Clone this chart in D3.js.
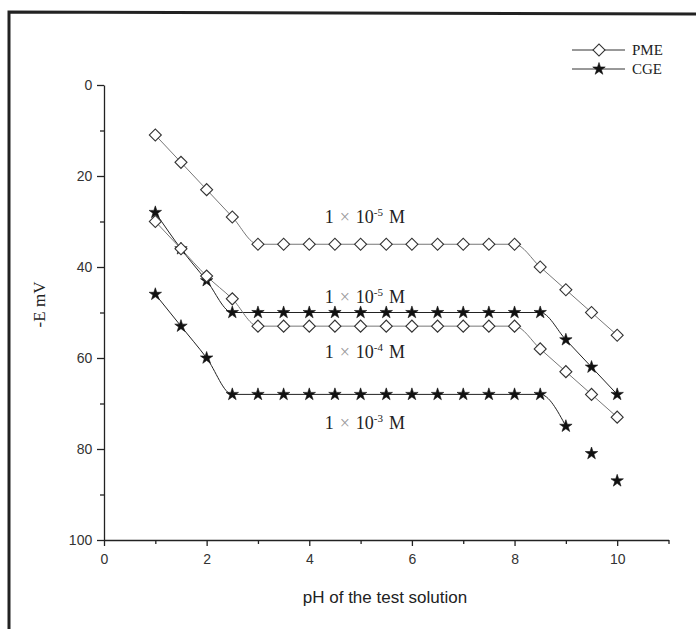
<!DOCTYPE html>
<html>
<head>
<meta charset="utf-8">
<script src="https://cdn.jsdelivr.net/npm/d3@7"></script>
<style>
  html, body { margin: 0; padding: 0; background: #fff; }
  svg { display: block; }
</style>
</head>
<body>
<svg id="chart" width="696" height="629"></svg>
<script>
// pH of the test solution
const pH = [1, 1.5, 2, 2.5, 3, 3.5, 4, 4.5, 5, 5.5, 6, 6.5, 7, 7.5, 8, 8.5, 9, 9.5, 10];

// -E (mV) readings
const pme5 = [11, 17, 23, 29, 35, 35, 35, 35, 35, 35, 35, 35, 35, 35, 35, 40, 45, 50, 55];
const cge5 = [28, 36, 43, 50, 50, 50, 50, 50, 50, 50, 50, 50, 50, 50, 50, 50, 56, 62, 68];
const pme4 = [30, 36, 42, 47, 53, 53, 53, 53, 53, 53, 53, 53, 53, 53, 53, 58, 63, 68, 73];
const cge3 = [46, 53, 60, 68, 68, 68, 68, 68, 68, 68, 68, 68, 68, 68, 68, 68, 75, 81, 87];
// the 1e-3 M CGE curve is only traced up to pH 9
const cge3LineEnd = 9;

const xTicks = [0, 2, 4, 6, 8, 10];
const yTicks = [0, 20, 40, 60, 80, 100];
const legendNames = ["PME", "CGE"];
const concLabels = ["-5", "-5", "-4", "-3"];

const svg = d3.select("#chart");

// scanned page frame
svg.append("path")
  .attr("d", "M9,640 L9,12 L700,14")
  .attr("fill", "none").attr("stroke", "#222").attr("stroke-width", 3);

const x = d3.scaleLinear().domain([0, 11]).range([104, 668.5]);
const y = d3.scaleLinear().domain([0, 100]).range([85, 540]);

const axisColor = "#222";

// x axis
const gx = svg.append("g").attr("transform", `translate(0,${y(100)})`)
  .call(d3.axisBottom(x).tickValues(d3.range(0, 12)).tickSize(5).tickSizeOuter(0)
    .tickFormat(d => xTicks.includes(d) ? d : ""));
gx.selectAll(".tick line").attr("y2", d => xTicks.includes(d) ? 6 : 4);

// y axis
const gy = svg.append("g").attr("transform", `translate(${x(0)},0)`)
  .call(d3.axisLeft(y).tickValues(d3.range(0, 101, 10)).tickSize(6).tickSizeOuter(0)
    .tickFormat(d => yTicks.includes(d) ? d : ""));
gy.selectAll(".tick line").attr("x2", d => yTicks.includes(d) ? -7 : -4);

[gx, gy].forEach(g => {
  g.select(".domain").attr("stroke", axisColor).attr("stroke-width", 1.3);
  g.selectAll(".tick line").attr("stroke", axisColor).attr("stroke-width", 1.3);
  g.selectAll(".tick text")
    .attr("fill", "#333")
    .style("font-family", "'Liberation Sans', Arial, sans-serif")
    .style("font-size", "14px");
});
gx.selectAll(".tick text").attr("dy", "1.15em");
gy.selectAll(".tick text").attr("dx", "-0.2em");

// axis titles
svg.append("text")
  .attr("x", 385).attr("y", 603)
  .attr("text-anchor", "middle")
  .attr("fill", "#222")
  .style("font-family", "'Liberation Sans', Arial, sans-serif")
  .style("font-size", "17px")
  .text("pH of the test solution");

svg.append("text")
  .attr("transform", `translate(45,${y(50) - 8}) rotate(-90)`)
  .attr("text-anchor", "middle")
  .attr("fill", "#222")
  .style("font-family", "'Liberation Serif', 'Times New Roman', serif")
  .style("font-size", "17px")
  .text("-E mV");

// curves
const line = d3.line().x(d => x(d[0])).y(d => y(d[1])).curve(d3.curveMonotoneX);
const zip = vals => pH.map((p, i) => [p, vals[i]]);

const series = [
  { vals: pme5, marker: "diamond", color: "#777", lineTo: 10 },
  { vals: cge5, marker: "star", color: "#222", lineTo: 10 },
  { vals: pme4, marker: "diamond", color: "#777", lineTo: 10 },
  { vals: cge3, marker: "star", color: "#222", lineTo: cge3LineEnd }
];

const diamond = d3.symbol().type(d3.symbolSquare).size(72);
const star = d3.symbol().type(d3.symbolStar).size(48);

series.forEach(s => {
  const pts = zip(s.vals);
  svg.append("path")
    .datum(pts.filter(d => d[0] <= s.lineTo))
    .attr("d", line)
    .attr("fill", "none")
    .attr("stroke", s.color)
    .attr("stroke-width", 1);
});

function drawMarker(g, kind, cx, cy) {
  if (kind === "diamond") {
    g.append("path")
      .attr("d", diamond())
      .attr("transform", `translate(${cx},${cy}) rotate(45)`)
      .attr("fill", "#fff").attr("stroke", "#333").attr("stroke-width", 1.1);
  } else {
    g.append("path")
      .attr("d", star())
      .attr("transform", `translate(${cx},${cy})`)
      .attr("fill", "#111").attr("stroke", "#111").attr("stroke-width", 0.6);
  }
}

const markers = svg.append("g");
series.forEach(s => {
  zip(s.vals).forEach(d => drawMarker(markers, s.marker, x(d[0]), y(d[1])));
});

// concentration labels
const labelPos = [[4.3, 29], [4.3, 46.6], [4.3, 58.7], [4.3, 74.3]];
concLabels.forEach((exp, i) => {
  const t = svg.append("text")
    .attr("x", x(labelPos[i][0])).attr("y", y(labelPos[i][1]) + 6)
    .attr("fill", "#222")
    .style("font-family", "'Liberation Serif', 'Times New Roman', serif")
    .style("font-size", "18px");
  t.append("tspan").text("1");
  t.append("tspan").attr("fill", "#999").attr("dx", 6).text("×");
  t.append("tspan").attr("dx", 6).text("10");
  t.append("tspan").attr("dy", -7).style("font-size", "11px").text(exp);
  t.append("tspan").attr("dy", 7).attr("dx", 6).text("M");
});

// legend
const legend = svg.append("g");
legendNames.forEach((name, i) => {
  const ly = 50 + i * 19;
  legend.append("line")
    .attr("x1", 572).attr("x2", 625).attr("y1", ly).attr("y2", ly)
    .attr("stroke", "#333").attr("stroke-width", 1);
  drawMarker(legend, i === 0 ? "diamond" : "star", 599, ly);
  legend.append("text")
    .attr("x", 632).attr("y", ly + 5)
    .attr("fill", "#222")
    .style("font-family", "'Liberation Serif', 'Times New Roman', serif")
    .style("font-size", "15px")
    .text(name);
});
</script>
</body>
</html>
